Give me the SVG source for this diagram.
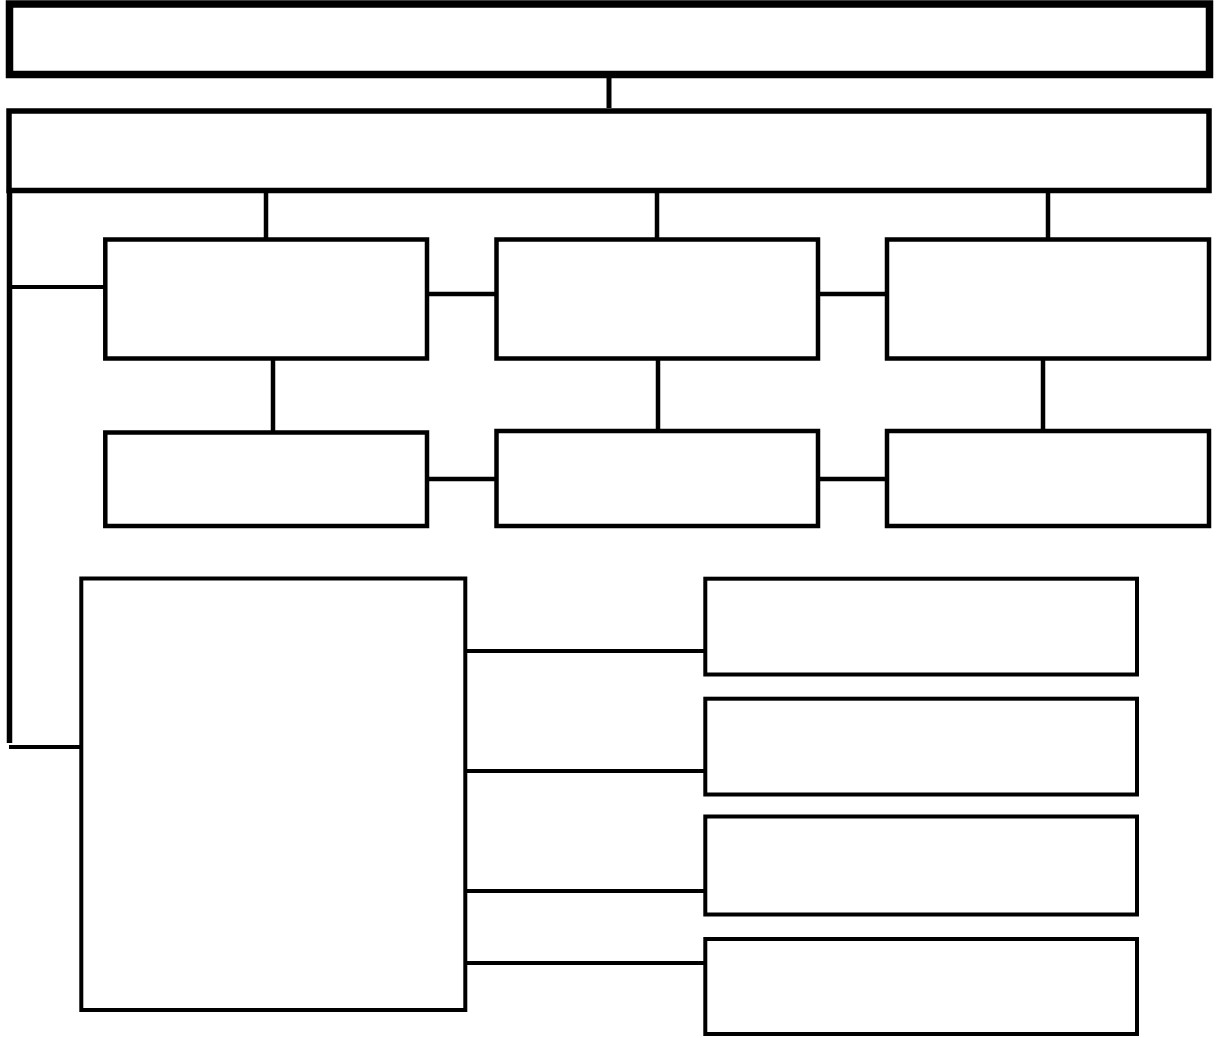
<svg xmlns="http://www.w3.org/2000/svg" width="1225" height="1038" viewBox="0 0 1225 1038">
<style>
.n{fill:#fff;stroke:#000}
.c{stroke:#000;fill:none}
</style>
<rect width="1225" height="1038" fill="#fff"/>
<g id="connectors" class="c">
<line x1="609" y1="78" x2="609" y2="108" stroke-width="5"/>
<line x1="9.5" y1="190" x2="9.5" y2="743" stroke-width="5.5"/>
<line x1="9" y1="747" x2="81" y2="747" stroke-width="4"/>
<line x1="12" y1="287" x2="105" y2="287" stroke-width="4"/>
<line x1="266" y1="193" x2="266" y2="239" stroke-width="4.5"/>
<line x1="657" y1="193" x2="657" y2="239" stroke-width="4.5"/>
<line x1="1048" y1="193" x2="1048" y2="239" stroke-width="4.5"/>
<line x1="427" y1="294" x2="496.5" y2="294" stroke-width="4.5"/>
<line x1="818" y1="294" x2="887" y2="294" stroke-width="4.5"/>
<line x1="273" y1="359" x2="273" y2="432" stroke-width="4.5"/>
<line x1="658" y1="359" x2="658" y2="431" stroke-width="4.5"/>
<line x1="1043" y1="359" x2="1043" y2="431" stroke-width="4.5"/>
<line x1="427" y1="479" x2="496.5" y2="479" stroke-width="4.5"/>
<line x1="818" y1="479" x2="887" y2="479" stroke-width="4.5"/>
<line x1="465" y1="651" x2="705" y2="651" stroke-width="4"/>
<line x1="465" y1="771" x2="705" y2="771" stroke-width="4"/>
<line x1="465" y1="891" x2="705" y2="891" stroke-width="4"/>
<line x1="465" y1="963" x2="705" y2="963" stroke-width="4"/>
</g>
<g id="n0"><rect class="n" x="9.5" y="4" width="1200" height="70.5" stroke-width="7.5"/></g>
<g id="n1"><rect class="n" x="9" y="111" width="1200" height="79.5" stroke-width="5.5"/></g>
<g id="n2"><rect class="n" x="105.3" y="239.5" width="321.7" height="119" stroke-width="4.5"/></g>
<g id="n3"><rect class="n" x="496.5" y="239.5" width="321.5" height="119" stroke-width="4.5"/></g>
<g id="n4"><rect class="n" x="887" y="239.5" width="322" height="119" stroke-width="4.5"/></g>
<g id="n5"><rect class="n" x="105.3" y="432.5" width="321.7" height="93.5" stroke-width="4.5"/></g>
<g id="n6"><rect class="n" x="496.5" y="431" width="321.5" height="95" stroke-width="4.5"/></g>
<g id="n7"><rect class="n" x="887" y="431" width="322" height="95" stroke-width="4.5"/></g>
<g id="n8"><rect class="n" x="81.3" y="578.5" width="384" height="431.5" stroke-width="4"/></g>
<g id="n9"><rect class="n" x="705.3" y="578.7" width="431.7" height="95.8" stroke-width="4"/></g>
<g id="n10"><rect class="n" x="705.3" y="698.7" width="431.7" height="95.8" stroke-width="4"/></g>
<g id="n11"><rect class="n" x="705.3" y="816.5" width="431.7" height="98" stroke-width="4"/></g>
<g id="n12"><rect class="n" x="705.3" y="939" width="431.7" height="95" stroke-width="4"/></g>
</svg>
